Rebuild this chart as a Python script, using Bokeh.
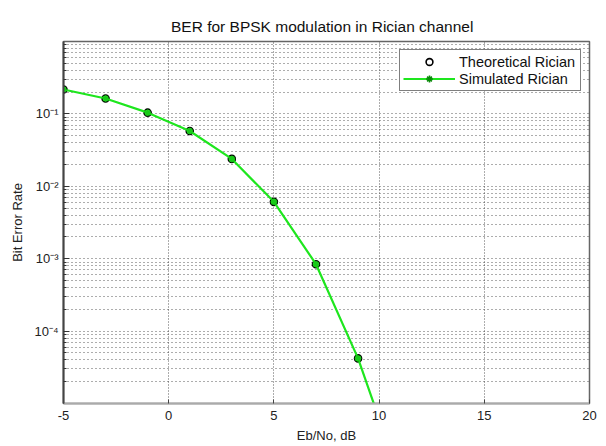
from bokeh.plotting import figure
from bokeh.models import (FixedTicker, CustomJSTickFormatter, Legend, LegendItem, Range1d)
from bokeh.embed import file_html
from bokeh.resources import INLINE

# ---- data ----
ebno_db = [-5, -3, -1, 1, 3, 5, 7, 9, 11]
ber_theory = [0.217, 0.163, 0.104, 0.058, 0.0239, 0.0061, 8.4e-4, 4.2e-5, 9e-7]
ber_sim = [0.217, 0.163, 0.104, 0.058, 0.0239, 0.0061, 8.4e-4, 4.2e-5, 9e-7]

x_ticks = [-5, 0, 5, 10, 15, 20]
x_tick_labels = ["-5", "0", "5", "10", "15", "20"]
y_ticks = [1e-4, 1e-3, 1e-2, 1e-1]
y_tick_labels = ["10\u207b\u2074", "10\u207b\u00b3", "10\u207b\u00b2", "10\u207b\u00b9"]

title_text = "BER for BPSK modulation in  Rician  channel"
x_label = "Eb/No, dB"
y_label = "Bit Error Rate"
legend_labels = ["Theoretical Rician", "Simulated Rician"]

FONT = "Liberation Sans"
GREEN = "#1ee61e"

p = figure(width=606, height=446, output_backend="svg", toolbar_location=None,
           y_axis_type="log", x_range=Range1d(-5, 20), y_range=Range1d(1e-5, 1),
           min_border_left=63, min_border_right=17, min_border_top=41,
           min_border_bottom=43, background_fill_color="white",
           border_fill_color="white")

p.title.text = title_text
p.title.align = "center"
p.title.offset = -14
p.title.text_font = FONT
p.title.text_font_size = "15.5px"
p.title.text_font_style = "normal"
p.title.text_color = "#111111"
p.title.standoff = 13

# frame
p.outline_line_color = "#666666"
p.outline_line_width = 1.5

# x axis
xa = p.xaxis[0]
xa.ticker = FixedTicker(ticks=x_ticks)
xa.major_label_overrides = {t: l for t, l in zip(x_ticks, x_tick_labels)}
xa.axis_line_color = "#aaaaaa"
xa.axis_line_width = 2
xa.major_tick_in = 4
xa.major_tick_out = 0
xa.major_tick_line_color = "#444444"
xa.minor_tick_line_color = None
xa.major_label_text_font = FONT
xa.major_label_text_font_size = "13px"
xa.major_label_text_color = "#222222"
xa.major_label_standoff = 7
xa.axis_label = x_label
xa.axis_label_text_font = FONT
xa.axis_label_text_font_size = "13px"
xa.axis_label_text_font_style = "normal"
xa.axis_label_text_color = "#222222"
xa.axis_label_standoff = 5

# y axis
minor = [k * 10.0 ** e for e in range(-5, 0) for k in range(2, 10)]
ya = p.yaxis[0]
ya.ticker = FixedTicker(ticks=y_ticks, minor_ticks=minor)
ya.formatter = CustomJSTickFormatter(args=dict(tvals=y_ticks, tlabels=y_tick_labels), code="""
    for (let i = 0; i < tvals.length; i++) {
        if (Math.abs(Math.log10(tick) - Math.log10(tvals[i])) < 1e-6) { return tlabels[i]; }
    }
    return "";
""")
ya.axis_line_color = "#444444"
ya.axis_line_width = 2
ya.major_tick_in = 6
ya.major_tick_out = 0
ya.minor_tick_in = 3
ya.minor_tick_out = 0
ya.major_tick_line_color = "#333333"
ya.minor_tick_line_color = "#333333"
ya.major_label_text_font = FONT
ya.major_label_text_font_size = "13px"
ya.major_label_text_color = "#222222"
ya.major_label_standoff = 5
ya.axis_label = y_label
ya.axis_label_text_font = FONT
ya.axis_label_text_font_size = "13px"
ya.axis_label_text_font_style = "normal"
ya.axis_label_text_color = "#222222"
ya.axis_label_standoff = 6

# grids
p.xgrid.grid_line_color = "#333333"
p.xgrid.grid_line_dash = "1 2"
p.xgrid.grid_line_alpha = 0.8
p.ygrid.grid_line_color = "#333333"
p.ygrid.grid_line_dash = "1 3"
p.ygrid.grid_line_alpha = 0.8
p.ygrid.minor_grid_line_color = "#333333"
p.ygrid.minor_grid_line_dash = "1 3"
p.ygrid.minor_grid_line_alpha = 0.8

# data
r_th = p.scatter(ebno_db, ber_theory, marker="circle", size=7, fill_color=None,
                 line_color="black", line_width=1.6)
r_line = p.line(ebno_db, ber_sim, line_color=GREEN, line_width=2.2)
r_star = p.scatter(ebno_db, ber_sim, marker="asterisk", size=7, line_color="#0a8a0a",
                   line_width=1.6)
r_dot = p.scatter(ebno_db, ber_sim, marker="circle", size=6, fill_color=GREEN,
                  fill_alpha=0.7, line_color=None)

legend = Legend(items=[LegendItem(label=legend_labels[0], renderers=[r_th]),
                       LegendItem(label=legend_labels[1], renderers=[r_line, r_star])],
                location="top_right", margin=8, padding=3, spacing=0,
                glyph_width=52, glyph_height=17, label_height=17, label_width=118,
                label_standoff=4, label_text_font=FONT, label_text_font_size="14.5px",
                label_text_color="#111111", border_line_color="black",
                border_line_width=1, background_fill_color="white",
                background_fill_alpha=1.0)
p.add_layout(legend)

open("out.html", "w").write(file_html(p, INLINE))
